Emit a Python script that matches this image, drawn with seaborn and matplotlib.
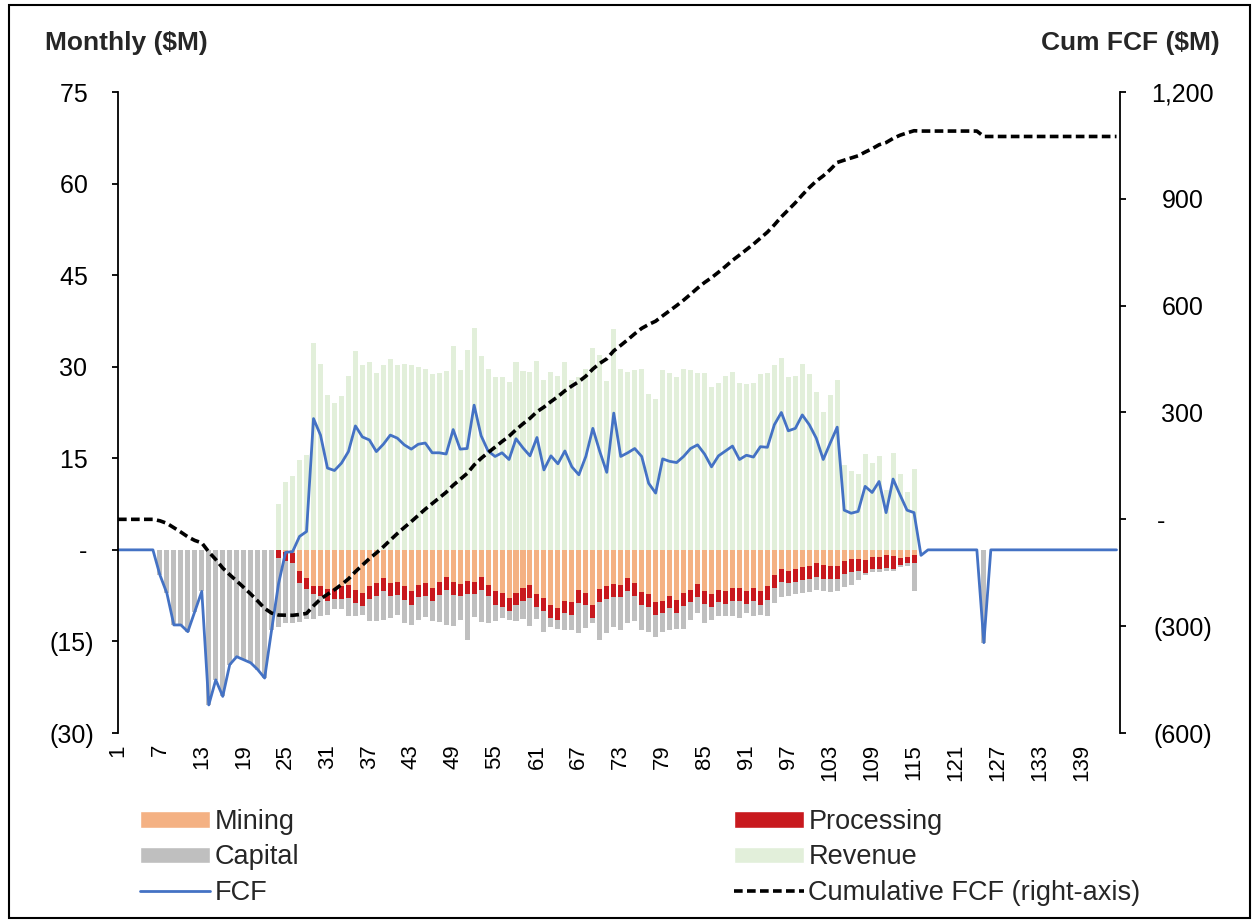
import numpy as np
import pandas as pd
import matplotlib
matplotlib.use("Agg")
import matplotlib.pyplot as plt
from matplotlib.patches import Patch, Rectangle
from matplotlib.lines import Line2D
import seaborn as sns

# ---- data ($M per month) ----
months = np.arange(1, 145)
tick_months = list(range(1, 140, 6))

# revenue: months 24-115
revenue = [0.0] * 23 + [
    7.5, 11.1, 12.1, 14.8, 15.6, 33.9, 30.5, 25.3, 24.1, 25.2,
    28.4, 32.6, 30.3, 30.8, 29.0, 30.2, 31.3, 30.2, 30.4, 30.2,
    30.0, 29.6, 28.8, 28.9, 29.3, 33.4, 29.5, 32.7, 36.3, 31.8,
    29.6, 28.3, 28.3, 27.5, 30.8, 29.3, 29.1, 30.9, 27.8, 29.1,
    28.5, 30.7, 27.8, 28.3, 29.6, 33.0, 31.9, 27.7, 36.1, 29.6,
    29.2, 29.4, 29.7, 25.6, 24.7, 29.5, 28.9, 28.3, 29.6, 29.5,
    28.9, 28.9, 26.6, 27.4, 28.5, 29.2, 27.3, 27.2, 27.3, 28.8,
    28.9, 30.3, 31.5, 28.3, 28.5, 30.4, 28.8, 25.9, 22.5, 25.4,
    27.9, 13.9, 12.9, 12.4, 15.7, 14.2, 15.4, 9.8, 15.8, 12.5,
    9.5, 13.2,
] + [0.0] * 29

# mining cost: months 24-115
mining = [0.0] * 23 + [
    0.0, -0.4, -0.5, -3.4, -4.6, -6.0, -6.0, -6.4, -6.4, -6.0,
    -5.8, -6.5, -7.0, -6.0, -5.5, -4.6, -5.5, -5.2, -6.0, -6.8,
    -5.7, -5.5, -6.3, -5.3, -4.5, -5.2, -5.6, -5.1, -5.3, -4.4,
    -5.7, -6.8, -7.1, -7.9, -7.0, -6.2, -5.8, -7.2, -7.9, -9.0,
    -9.5, -8.3, -8.6, -6.5, -7.0, -9.0, -6.4, -5.9, -5.6, -5.7,
    -4.6, -5.5, -6.9, -7.3, -8.6, -8.3, -7.5, -8.2, -7.1, -6.5,
    -5.6, -6.8, -7.3, -6.5, -6.8, -6.3, -6.3, -6.8, -6.2, -6.8,
    -6.0, -4.2, -3.1, -3.4, -3.2, -2.8, -2.6, -2.2, -2.5, -2.6,
    -2.6, -1.8, -1.5, -1.5, -1.6, -1.1, -1.1, -0.8, -1.0, -1.4,
    -1.1, -0.8,
] + [0.0] * 29

# processing cost: months 24-115
processing = [0.0] * 23 + [
    -1.4, -1.5, -1.6, -2.1, -1.8, -1.2, -1.6, -2.0, -1.7, -2.1,
    -2.1, -2.2, -2.2, -2.1, -2.1, -2.2, -2.1, -2.2, -2.2, -2.2,
    -2.1, -2.1, -2.1, -2.1, -2.1, -2.2, -2.0, -2.1, -2.0, -2.2,
    -1.9, -2.2, -2.2, -2.1, -2.1, -2.1, -2.1, -2.1, -2.1, -2.2,
    -2.0, -2.1, -2.1, -2.2, -2.1, -2.1, -2.2, -2.1, -2.1, -2.1,
    -2.1, -2.1, -2.1, -2.1, -2.0, -2.1, -2.1, -2.1, -2.1, -2.1,
    -2.1, -2.0, -2.0, -2.1, -2.1, -2.1, -2.1, -2.1, -2.1, -2.2,
    -2.2, -2.0, -2.2, -2.1, -2.1, -2.1, -2.1, -2.2, -2.2, -2.1,
    -2.2, -2.1, -2.2, -2.0, -2.2, -2.1, -2.1, -2.2, -2.1, -1.1,
    -1.1, -1.3,
] + [0.0] * 29

# capital: months 7-115, plus a sustaining spend in month 125
capital = [0.0] * 6 + [
    -4.1, -7.1, -12.3, -12.3, -13.4, -10.1, -6.8, -25.4, -21.3, -24.0,
    -18.8, -17.5, -18.0, -18.5, -19.6, -21.0, -13.1, -11.3, -10.0, -9.9,
    -6.3, -5.0, -4.1, -3.3, -2.3, -1.6, -1.6, -3.0, -2.2, -1.5,
    -3.5, -4.0, -4.7, -3.5, -3.2, -3.7, -3.3, -3.7, -3.4, -3.3,
    -4.4, -5.7, -5.1, -3.9, -7.6, -3.7, -5.2, -4.4, -2.6, -1.8,
    -1.5, -2.5, -3.1, -4.5, -2.1, -3.5, -1.5, -1.4, -2.8, -2.5,
    -4.9, -3.7, -0.8, -6.1, -5.6, -4.9, -5.4, -5.3, -4.0, -4.1,
    -4.1, -3.7, -3.0, -3.5, -2.7, -3.8, -2.9, -2.7, -3.1, -2.2,
    -2.3, -1.9, -2.4, -2.7, -1.5, -2.6, -1.6, -2.7, -2.5, -2.5,
    -2.1, -2.0, -2.2, -2.2, -2.2, -2.0, -2.2, -1.9, -2.2, -2.0,
    -1.5, -0.4, -0.5, -0.4, -0.5, -0.4, -0.3, -0.5, -4.7,
] + [0.0] * 9 + [-15.2] + [0.0] * 19

# free cash flow: months 7-116, plus month 125
fcf = [0.0] * 6 + [
    -4.1, -7.1, -12.3, -12.3, -13.4, -10.1, -6.8, -25.4, -21.3, -24.0,
    -18.8, -17.5, -18.0, -18.5, -19.6, -21.0, -13.1, -5.5, -0.4, -0.3,
    2.2, 3.0, 21.5, 18.8, 13.4, 13.0, 14.2, 16.1, 20.3, 18.5,
    18.0, 16.1, 17.3, 18.8, 18.3, 17.2, 16.5, 17.3, 17.5, 15.9,
    15.9, 15.7, 19.7, 16.5, 16.6, 23.7, 18.7, 16.2, 15.3, 15.9,
    14.8, 18.2, 16.7, 15.4, 18.4, 13.1, 15.4, 14.1, 16.2, 13.6,
    12.3, 15.3, 19.9, 16.1, 12.7, 22.4, 15.3, 15.9, 16.6, 15.3,
    10.9, 9.3, 14.9, 14.5, 14.3, 15.3, 16.6, 17.2, 15.7, 13.6,
    15.4, 16.2, 17.0, 14.8, 15.5, 15.2, 16.9, 16.8, 20.5, 22.5,
    19.5, 19.9, 22.1, 20.5, 18.3, 14.8, 17.5, 20.1, 6.5, 6.0,
    6.3, 10.4, 9.4, 11.2, 6.1, 11.6, 9.0, 6.5, 6.1, -0.9,
] + [0.0] * 8 + [-15.2] + [0.0] * 19

left_ticks = [-30, -15, 0, 15, 30, 45, 60, 75]
left_labels = ["(30)", "(15)", "- ", "15 ", "30 ", "45 ", "60 ", "75 "]
right_ticks = [-600, -300, 0, 300, 600, 900, 1200]
right_labels = ["(600)", "(300)", "-      ", "300", "600", "900", "1,200"]

# colours
c_mining = "#F4B183"
c_proc = "#C8191E"
c_cap = "#BFBFBF"
c_rev = "#E2EFDA"
c_fcf = "#4472C4"

df = pd.DataFrame({
    "month": months,
    "revenue": revenue,
    "mining": mining,
    "processing": processing,
    "capital": capital,
    "fcf": fcf,
})
# negative stack: draw the deepest layer first, shallower layers over it
df["mine_proc"] = df["mining"] + df["processing"]
df["all_costs"] = df["mine_proc"] + df["capital"]
df["cum_fcf"] = df["fcf"].cumsum()

sns.set_style("white")
plt.rcParams["font.family"] = ["Liberation Sans", "DejaVu Sans"]

fig = plt.figure(figsize=(12.55, 9.22), dpi=100)
ax = fig.add_axes([118 / 1255, 1 - 733 / 922, (1120 - 118) / 1255, (733 - 92) / 922])

bar_kw = dict(native_scale=True, width=0.72, saturation=1, errorbar=None, linewidth=0, ax=ax)
sns.barplot(data=df, x="month", y="revenue", color=c_rev, **bar_kw)
sns.barplot(data=df, x="month", y="all_costs", color=c_cap, **bar_kw)
sns.barplot(data=df, x="month", y="mine_proc", color=c_proc, **bar_kw)
sns.barplot(data=df, x="month", y="mining", color=c_mining, **bar_kw)
sns.lineplot(data=df, x="month", y="fcf", color=c_fcf, linewidth=2.0, errorbar=None, ax=ax)

ax2 = ax.twinx()
sns.lineplot(data=df, x="month", y="cum_fcf", color="black", linewidth=2.6,
             linestyle=(0, (2.4, 1.2)), errorbar=None, ax=ax2)

ax.set_xlim(1, 144.5)
ax.set_ylim(-30, 75)
ax2.set_ylim(-600, 1200)

ax.set_xticks(tick_months, [str(m) for m in tick_months])
ax.set_yticks(left_ticks, left_labels)
ax2.set_yticks(right_ticks, right_labels)
ax.set_xlabel("")
ax.set_ylabel("")
ax2.set_ylabel("")

for s in ["top", "right", "bottom"]:
    ax.spines[s].set_visible(False)
for s in ["top", "left", "bottom"]:
    ax2.spines[s].set_visible(False)
ax.spines["left"].set_color("black")
ax.spines["left"].set_linewidth(1.3)
ax2.spines["right"].set_color("black")
ax2.spines["right"].set_linewidth(1.3)

ax.tick_params(axis="x", length=0, pad=8, labelsize=16, labelrotation=90, colors="black")
ax.tick_params(axis="y", left=True, direction="out", length=4, width=1.3,
               pad=13, labelsize=18, colors="black")
ax2.tick_params(axis="y", right=True, direction="out", length=4, width=1.3,
                pad=41, labelsize=18, colors="black")
for lab in ax2.get_yticklabels():
    lab.set_horizontalalignment("center")
ax.grid(False)
ax2.grid(False)

fig.text(45 / 1255, 1 - 43 / 922, "Monthly ($M)", fontsize=19, fontweight="bold",
         ha="left", va="center")
fig.text(1220 / 1255, 1 - 43 / 922, "Cum FCF ($M)", fontsize=19, fontweight="bold",
         ha="right", va="center")

handles = [
    Patch(facecolor=c_mining, label="Mining"),
    Patch(facecolor=c_cap, label="Capital"),
    Line2D([], [], color=c_fcf, linewidth=2.0, label="FCF"),
    Patch(facecolor=c_proc, label="Processing"),
    Patch(facecolor=c_rev, label="Revenue"),
    Line2D([], [], color="black", linewidth=2.6, linestyle=(0, (2.4, 1.2)),
           label="Cumulative FCF (right-axis)"),
]
fig.legend(handles=handles, loc="upper left", bbox_to_anchor=(140 / 1255, 1 - 809 / 922),
           ncol=2, frameon=False, fontsize=19.5, handlelength=2.6, handleheight=0.55,
           handletextpad=0.15, columnspacing=16.05, labelspacing=0.35,
           borderpad=0, borderaxespad=0)

fig.add_artist(Rectangle((0.007, 0.004), 0.989, 0.991, transform=fig.transFigure,
                         fill=False, edgecolor="black", linewidth=1.5))

fig.savefig("out.png", dpi=100)
